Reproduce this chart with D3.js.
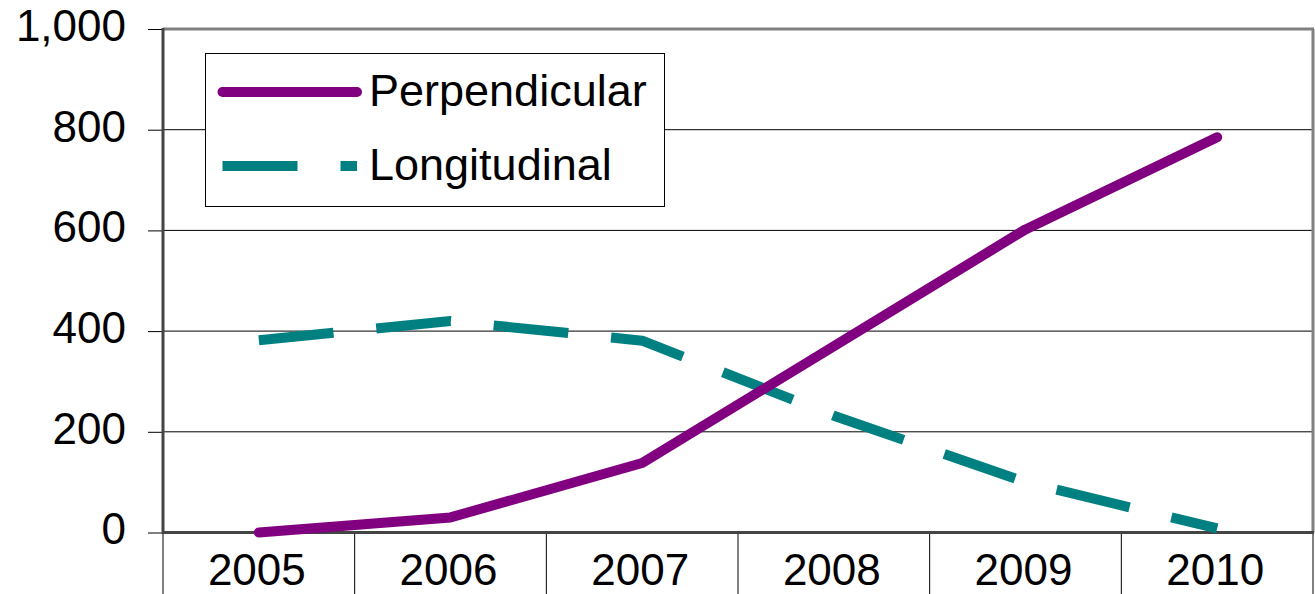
<!DOCTYPE html>
<html>
<head>
<meta charset="utf-8">
<script src="https://cdn.jsdelivr.net/npm/d3@7"></script>
<style>
  html, body { margin: 0; padding: 0; background: #fff; }
  svg { display: block; font-family: "Liberation Sans", Arial, sans-serif; }
</style>
</head>
<body>
<svg id="chart" width="1315" height="594"></svg>
<script>
const years = ["2005", "2006", "2007", "2008", "2009", "2010"];
const perpendicular = [0, 30, 138, 370, 602, 785];
const longitudinal = [382, 420, 381, 232, 100, 8];
const yTicks = [0, 200, 400, 600, 800, 1000];
const seriesNames = ["Perpendicular", "Longitudinal"];

(function () {
const svg = d3.select("#chart");
const pL = 163, pR = 1313, pT = 29, pB = 532.5;

const x = d3.scaleBand().domain(years).range([pL, pR]).paddingInner(0).paddingOuter(0);
const y = d3.scaleLinear().domain([0, 1000]).range([pB, pT]);

// gridlines
svg.append("g").selectAll("line").data(yTicks.filter(d => d > 0 && d < 1000)).join("line")
  .attr("x1", pL).attr("x2", pR)
  .attr("y1", d => y(d)).attr("y2", d => y(d))
  .attr("stroke", "#000").attr("stroke-width", 1);

// Y axis
const yAxis = d3.axisLeft(y).tickValues(yTicks).tickSize(15).tickPadding(22)
  .tickFormat(d3.format(","));
const gy = svg.append("g").attr("transform", `translate(${pL},0)`).call(yAxis);
gy.select(".domain").remove();
gy.selectAll(".tick line").attr("stroke", "#000").attr("stroke-width", 1);
gy.selectAll(".tick text").attr("font-size", 44).attr("fill", "#000")
  .attr("font-family", "'Liberation Sans', Arial, sans-serif").attr("dy", "0.26em");

// X boundary ticks
const bounds = years.map(d => x(d)).concat([pR]);
svg.append("g").selectAll("line").data(bounds).join("line")
  .attr("x1", d => d).attr("x2", d => d)
  .attr("y1", pB).attr("y2", 594)
  .attr("stroke", "#000").attr("stroke-width", 1);

// X labels
svg.append("g").selectAll("text").data(years).join("text")
  .attr("x", d => x(d) + x.bandwidth() / 2 - 2)
  .attr("y", 585)
  .attr("text-anchor", "middle")
  .attr("font-size", 44).attr("fill", "#000")
  .text(d => d);

// Frame
svg.append("line").attr("x1", pL).attr("x2", pR + 1).attr("y1", pT).attr("y2", pT)
  .attr("stroke", "#808080").attr("stroke-width", 3);
svg.append("line").attr("x1", pR).attr("x2", pR).attr("y1", pT).attr("y2", pB)
  .attr("stroke", "#808080").attr("stroke-width", 3);
svg.append("line").attr("x1", pL).attr("x2", pL).attr("y1", pT - 1).attr("y2", pB + 1)
  .attr("stroke", "#444").attr("stroke-width", 3);
svg.append("line").attr("x1", pL - 1).attr("x2", pR + 1).attr("y1", pB).attr("y2", pB)
  .attr("stroke", "#444").attr("stroke-width", 3);

const cx = d => x(d) + x.bandwidth() / 2;
const line = d3.line().x((d, i) => cx(years[i])).y(d => y(d));

svg.append("path").datum(longitudinal)
  .attr("d", line).attr("fill", "none")
  .attr("stroke", "#008080").attr("stroke-width", 10)
  .attr("stroke-dasharray", "75,43").attr("stroke-linejoin", "round").attr("stroke-linecap", "butt");

svg.append("path").datum(perpendicular)
  .attr("d", line).attr("fill", "none")
  .attr("stroke", "#800080").attr("stroke-width", 10)
  .attr("stroke-linejoin", "round").attr("stroke-linecap", "round");

// Legend
const lg = svg.append("g");
lg.append("rect").attr("x", 205.5).attr("y", 53.5).attr("width", 459).attr("height", 153)
  .attr("fill", "#fff").attr("stroke", "#000").attr("stroke-width", 1);
const legendItems = [
  { name: seriesNames[0], color: "#800080", dash: null, cap: "round", y: 92 },
  { name: seriesNames[1], color: "#008080", dash: "75,43", cap: "butt", y: 166 }
];
legendItems.forEach(it => {
  lg.append("line").attr("x1", 222.5).attr("x2", 357).attr("y1", it.y).attr("y2", it.y)
    .attr("stroke", it.color).attr("stroke-width", 10)
    .attr("stroke-linecap", it.cap)
    .attr("stroke-dasharray", it.dash);
  lg.append("text").attr("x", 369).attr("y", it.y + 13.5)
    .attr("font-size", 45).attr("fill", "#000").text(it.name);
});
})();
</script>
</body>
</html>
